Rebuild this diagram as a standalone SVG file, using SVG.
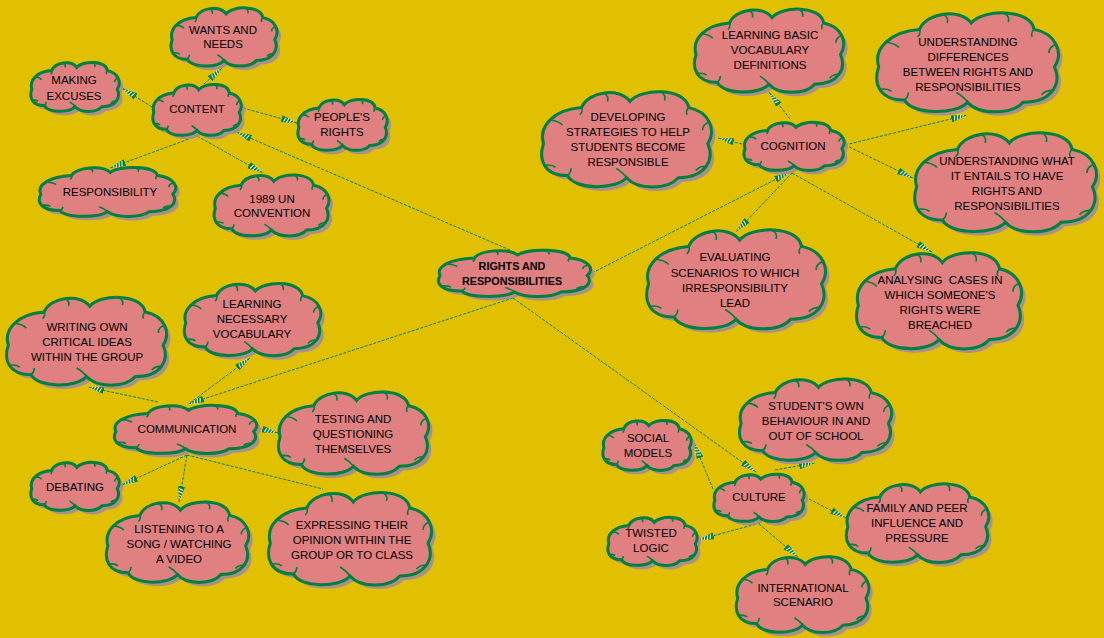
<svg xmlns="http://www.w3.org/2000/svg" xmlns:xlink="http://www.w3.org/1999/xlink" width="1104" height="638" viewBox="0 0 1104 638">
<style>
.sh{fill:#A8908C;stroke:none}
.bd{fill:#E08080;stroke:#008040;stroke-width:3}
.tk{fill:none;stroke:#008040;stroke-width:1.6}
.t{font-family:"Liberation Sans",Arial,sans-serif;font-size:11.5px;fill:#000;text-anchor:middle}
.b{font-weight:bold;font-size:10.8px}
.cn{fill:none;stroke:#008060;stroke-width:1;stroke-dasharray:3 1.5}
.cn.m{marker-end:url(#ar)}
</style>
<defs>
<path id="cl" vector-effect="non-scaling-stroke" d="M2,55 C-1,38 8,22 24,20 C28,4 46,0 52,14 C58,1 84,0 86,20 C98,24 102,42 97,55 C101,70 96,88 80,88 C74,100 56,100 50,88 C44,100 20,100 16,86 C2,86 -1,70 2,55 Z"/>
<path id="tk" vector-effect="non-scaling-stroke" d="M6,32 q5,1 7,5 M37,6 q3,3 2,8 M70,5 q3,3 2,8 M98,34 q-4,2 -4,8 M96,77 q-4,0 -6,4 M50,88 q-2,-5 -6,-9 M16,86 q2,-3 2,-7 M3,76 q4,-1 6,2 M24,20 q1,4 -1,7 M86,20 q-2,3 -1,7"/>
<marker id="ar" markerUnits="userSpaceOnUse" markerWidth="16" markerHeight="10" viewBox="0 0 16 10" refX="16" refY="5" orient="auto">
<path d="M0,1.5 L16,5 L0,8.5 Z" fill="#008040"/>
<path d="M2.5,7.2 L4,2.8 M5.5,7.4 L7,2.6 M8.5,6.8 L10,3.2 M11.5,6 L12.5,4" stroke="#fff" stroke-width="1" fill="none"/>
</marker>
</defs>
<rect width="1104" height="638" fill="#E0C000"/>
<g id="connectors">
<line class="cn m" x1="510" y1="250" x2="236" y2="132"/>
<line class="cn m" x1="592" y1="273" x2="790" y2="172"/>
<line class="cn m" x1="513" y1="298" x2="188" y2="404"/>
<line class="cn m" x1="513" y1="298" x2="756" y2="472"/>
<line class="cn m" x1="204" y1="84" x2="222" y2="68"/>
<line class="cn m" x1="152" y1="107" x2="122" y2="88"/>
<line class="cn m" x1="243" y1="108" x2="297" y2="123"/>
<line class="cn m" x1="197" y1="136" x2="110" y2="168"/>
<line class="cn m" x1="197" y1="136" x2="263" y2="173"/>
<line class="cn m" x1="790" y1="119" x2="769" y2="92"/>
<line class="cn m" x1="742" y1="144" x2="718" y2="138"/>
<line class="cn m" x1="845" y1="145" x2="967" y2="115"/>
<line class="cn m" x1="845" y1="145" x2="913" y2="178"/>
<line class="cn m" x1="792" y1="173" x2="736" y2="232"/>
<line class="cn m" x1="792" y1="173" x2="932" y2="252"/>
<line class="cn m" x1="158" y1="402" x2="88" y2="387"/>
<line class="cn m" x1="190" y1="403" x2="250" y2="358"/>
<line class="cn m" x1="258" y1="428" x2="278" y2="433"/>
<line class="cn m" x1="187" y1="455" x2="122" y2="485"/>
<line class="cn m" x1="187" y1="455" x2="179" y2="502"/>
<line class="cn" x1="187" y1="455" x2="323" y2="489"/>
<line class="cn m" x1="775" y1="470" x2="815" y2="463"/>
<line class="cn m" x1="713" y1="489" x2="694" y2="443"/>
<line class="cn m" x1="805" y1="497" x2="846" y2="518"/>
<line class="cn m" x1="760" y1="523" x2="698" y2="540"/>
<line class="cn m" x1="759" y1="524" x2="798" y2="557"/>
</g>
<g id="n-center"><use href="#cl" class="sh" transform="translate(441,252) scale(1.55,0.5)"/><use href="#cl" class="bd" transform="translate(437,248) scale(1.55,0.5)"/><use href="#tk" class="tk" transform="translate(437,248) scale(1.55,0.5)"/><text class="t b" x="512" y="270">RIGHTS AND</text><text class="t b" x="512" y="285">RESPONSIBILITIES</text></g>
<g id="n-wants"><use href="#cl" class="sh" transform="translate(174,9) scale(1.08,0.63)"/><use href="#cl" class="bd" transform="translate(170,5) scale(1.08,0.63)"/><use href="#tk" class="tk" transform="translate(170,5) scale(1.08,0.63)"/><text class="t" x="223" y="34">WANTS AND</text><text class="t" x="223" y="48">NEEDS</text></g>
<g id="n-making"><use href="#cl" class="sh" transform="translate(34,64) scale(0.9,0.53)"/><use href="#cl" class="bd" transform="translate(30,60) scale(0.9,0.53)"/><use href="#tk" class="tk" transform="translate(30,60) scale(0.9,0.53)"/><text class="t" x="74" y="84">MAKING</text><text class="t" x="74" y="100">EXCUSES</text></g>
<g id="n-content"><use href="#cl" class="sh" transform="translate(156,86) scale(0.9,0.55)"/><use href="#cl" class="bd" transform="translate(152,82) scale(0.9,0.55)"/><use href="#tk" class="tk" transform="translate(152,82) scale(0.9,0.55)"/><text class="t" x="197" y="113">CONTENT</text></g>
<g id="n-peoples"><use href="#cl" class="sh" transform="translate(301,101) scale(0.91,0.55)"/><use href="#cl" class="bd" transform="translate(297,97) scale(0.91,0.55)"/><use href="#tk" class="tk" transform="translate(297,97) scale(0.91,0.55)"/><text class="t" x="342" y="121">PEOPLE'S</text><text class="t" x="342" y="136">RIGHTS</text></g>
<g id="n-responsibility"><use href="#cl" class="sh" transform="translate(42,169) scale(1.39,0.53)"/><use href="#cl" class="bd" transform="translate(38,165) scale(1.39,0.53)"/><use href="#tk" class="tk" transform="translate(38,165) scale(1.39,0.53)"/><text class="t" x="110" y="196">RESPONSIBILITY</text></g>
<g id="n-un1989"><use href="#cl" class="sh" transform="translate(217,176) scale(1.17,0.66)"/><use href="#cl" class="bd" transform="translate(213,172) scale(1.17,0.66)"/><use href="#tk" class="tk" transform="translate(213,172) scale(1.17,0.66)"/><text class="t" x="272" y="203">1989 UN</text><text class="t" x="272" y="217">CONVENTION</text></g>
<g id="n-learnbasic"><use href="#cl" class="sh" transform="translate(697,9) scale(1.52,0.9)"/><use href="#cl" class="bd" transform="translate(693,5) scale(1.52,0.9)"/><use href="#tk" class="tk" transform="translate(693,5) scale(1.52,0.9)"/><text class="t" x="770" y="39">LEARNING BASIC</text><text class="t" x="770" y="54">VOCABULARY</text><text class="t" x="770" y="69">DEFINITIONS</text></g>
<g id="n-understdiff"><use href="#cl" class="sh" transform="translate(879,12) scale(1.85,1.07)"/><use href="#cl" class="bd" transform="translate(875,8) scale(1.85,1.07)"/><use href="#tk" class="tk" transform="translate(875,8) scale(1.85,1.07)"/><text class="t" x="968" y="46">UNDERSTANDING</text><text class="t" x="968" y="61">DIFFERENCES</text><text class="t" x="968" y="76">BETWEEN RIGHTS AND</text><text class="t" x="968" y="91">RESPONSIBILITIES</text></g>
<g id="n-developing"><use href="#cl" class="sh" transform="translate(544,91) scale(1.73,1.03)"/><use href="#cl" class="bd" transform="translate(540,87) scale(1.73,1.03)"/><use href="#tk" class="tk" transform="translate(540,87) scale(1.73,1.03)"/><text class="t" x="628" y="121">DEVELOPING</text><text class="t" x="628" y="136">STRATEGIES TO HELP</text><text class="t" x="628" y="151">STUDENTS BECOME</text><text class="t" x="628" y="166">RESPONSIBLE</text></g>
<g id="n-cognition"><use href="#cl" class="sh" transform="translate(747,124) scale(1.02,0.52)"/><use href="#cl" class="bd" transform="translate(743,120) scale(1.02,0.52)"/><use href="#tk" class="tk" transform="translate(743,120) scale(1.02,0.52)"/><text class="t" x="793" y="150">COGNITION</text></g>
<g id="n-understwhat"><use href="#cl" class="sh" transform="translate(917,132) scale(1.85,1.07)"/><use href="#cl" class="bd" transform="translate(913,128) scale(1.85,1.07)"/><use href="#tk" class="tk" transform="translate(913,128) scale(1.85,1.07)"/><text class="t" x="1007" y="165">UNDERSTANDING WHAT</text><text class="t" x="1007" y="180">IT ENTAILS TO HAVE</text><text class="t" x="1007" y="195">RIGHTS AND</text><text class="t" x="1007" y="210">RESPONSIBILITIES</text></g>
<g id="n-evaluating"><use href="#cl" class="sh" transform="translate(649,229) scale(1.82,1.07)"/><use href="#cl" class="bd" transform="translate(645,225) scale(1.82,1.07)"/><use href="#tk" class="tk" transform="translate(645,225) scale(1.82,1.07)"/><text class="t" x="735" y="261">EVALUATING</text><text class="t" x="735" y="277">SCENARIOS TO WHICH</text><text class="t" x="735" y="292">IRRESPONSIBILITY</text><text class="t" x="735" y="307">LEAD</text></g>
<g id="n-analysing"><use href="#cl" class="sh" transform="translate(859,252) scale(1.68,1.04)"/><use href="#cl" class="bd" transform="translate(855,248) scale(1.68,1.04)"/><use href="#tk" class="tk" transform="translate(855,248) scale(1.68,1.04)"/><text class="t" x="940" y="284" xml:space="preserve">ANALYSING  CASES IN</text><text class="t" x="940" y="299">WHICH SOMEONE'S</text><text class="t" x="940" y="314">RIGHTS WERE</text><text class="t" x="940" y="329">BREACHED</text></g>
<g id="n-writing"><use href="#cl" class="sh" transform="translate(9,297) scale(1.63,0.95)"/><use href="#cl" class="bd" transform="translate(5,293) scale(1.63,0.95)"/><use href="#tk" class="tk" transform="translate(5,293) scale(1.63,0.95)"/><text class="t" x="87" y="331">WRITING OWN</text><text class="t" x="87" y="346">CRITICAL IDEAS</text><text class="t" x="87" y="361">WITHIN THE GROUP</text></g>
<g id="n-learnnec"><use href="#cl" class="sh" transform="translate(187,284) scale(1.39,0.78)"/><use href="#cl" class="bd" transform="translate(183,280) scale(1.39,0.78)"/><use href="#tk" class="tk" transform="translate(183,280) scale(1.39,0.78)"/><text class="t" x="252" y="308">LEARNING</text><text class="t" x="252" y="323">NECESSARY</text><text class="t" x="252" y="338">VOCABULARY</text></g>
<g id="n-communication"><use href="#cl" class="sh" transform="translate(117,407) scale(1.45,0.52)"/><use href="#cl" class="bd" transform="translate(113,403) scale(1.45,0.52)"/><use href="#tk" class="tk" transform="translate(113,403) scale(1.45,0.52)"/><text class="t" x="187" y="433">COMMUNICATION</text></g>
<g id="n-testing"><use href="#cl" class="sh" transform="translate(281,392) scale(1.53,0.89)"/><use href="#cl" class="bd" transform="translate(277,388) scale(1.53,0.89)"/><use href="#tk" class="tk" transform="translate(277,388) scale(1.53,0.89)"/><text class="t" x="353" y="423">TESTING AND</text><text class="t" x="353" y="438">QUESTIONING</text><text class="t" x="353" y="453">THEMSELVES</text></g>
<g id="n-debating"><use href="#cl" class="sh" transform="translate(34,464) scale(0.9,0.52)"/><use href="#cl" class="bd" transform="translate(30,460) scale(0.9,0.52)"/><use href="#tk" class="tk" transform="translate(30,460) scale(0.9,0.52)"/><text class="t" x="75" y="491">DEBATING</text></g>
<g id="n-listening"><use href="#cl" class="sh" transform="translate(109,502) scale(1.45,0.87)"/><use href="#cl" class="bd" transform="translate(105,498) scale(1.45,0.87)"/><use href="#tk" class="tk" transform="translate(105,498) scale(1.45,0.87)"/><text class="t" x="179" y="533">LISTENING TO A</text><text class="t" x="179" y="548">SONG / WATCHING</text><text class="t" x="179" y="563">A VIDEO</text></g>
<g id="n-expressing"><use href="#cl" class="sh" transform="translate(271,492) scale(1.66,1.0)"/><use href="#cl" class="bd" transform="translate(267,488) scale(1.66,1.0)"/><use href="#tk" class="tk" transform="translate(267,488) scale(1.66,1.0)"/><text class="t" x="352" y="529">EXPRESSING THEIR</text><text class="t" x="352" y="544">OPINION WITHIN THE</text><text class="t" x="352" y="559">GROUP OR TO CLASS</text></g>
<g id="n-student"><use href="#cl" class="sh" transform="translate(742,379) scale(1.55,0.88)"/><use href="#cl" class="bd" transform="translate(738,375) scale(1.55,0.88)"/><use href="#tk" class="tk" transform="translate(738,375) scale(1.55,0.88)"/><text class="t" x="816" y="410">STUDENT'S OWN</text><text class="t" x="816" y="425">BEHAVIOUR IN AND</text><text class="t" x="816" y="440">OUT OF SCHOOL</text></g>
<g id="n-social"><use href="#cl" class="sh" transform="translate(606,422) scale(0.9,0.54)"/><use href="#cl" class="bd" transform="translate(602,418) scale(0.9,0.54)"/><use href="#tk" class="tk" transform="translate(602,418) scale(0.9,0.54)"/><text class="t" x="648" y="442">SOCIAL</text><text class="t" x="648" y="457">MODELS</text></g>
<g id="n-culture"><use href="#cl" class="sh" transform="translate(717,476) scale(0.92,0.51)"/><use href="#cl" class="bd" transform="translate(713,472) scale(0.92,0.51)"/><use href="#tk" class="tk" transform="translate(713,472) scale(0.92,0.51)"/><text class="t" x="759" y="501">CULTURE</text></g>
<g id="n-family"><use href="#cl" class="sh" transform="translate(849,484) scale(1.45,0.85)"/><use href="#cl" class="bd" transform="translate(845,480) scale(1.45,0.85)"/><use href="#tk" class="tk" transform="translate(845,480) scale(1.45,0.85)"/><text class="t" x="917" y="512">FAMILY AND PEER</text><text class="t" x="917" y="527">INFLUENCE AND</text><text class="t" x="917" y="542">PRESSURE</text></g>
<g id="n-twisted"><use href="#cl" class="sh" transform="translate(611,519) scale(0.91,0.52)"/><use href="#cl" class="bd" transform="translate(607,515) scale(0.91,0.52)"/><use href="#tk" class="tk" transform="translate(607,515) scale(0.91,0.52)"/><text class="t" x="651" y="537">TWISTED</text><text class="t" x="651" y="552">LOGIC</text></g>
<g id="n-international"><use href="#cl" class="sh" transform="translate(739,557) scale(1.35,0.82)"/><use href="#cl" class="bd" transform="translate(735,553) scale(1.35,0.82)"/><use href="#tk" class="tk" transform="translate(735,553) scale(1.35,0.82)"/><text class="t" x="803" y="592">INTERNATIONAL</text><text class="t" x="803" y="606">SCENARIO</text></g>
</svg>
